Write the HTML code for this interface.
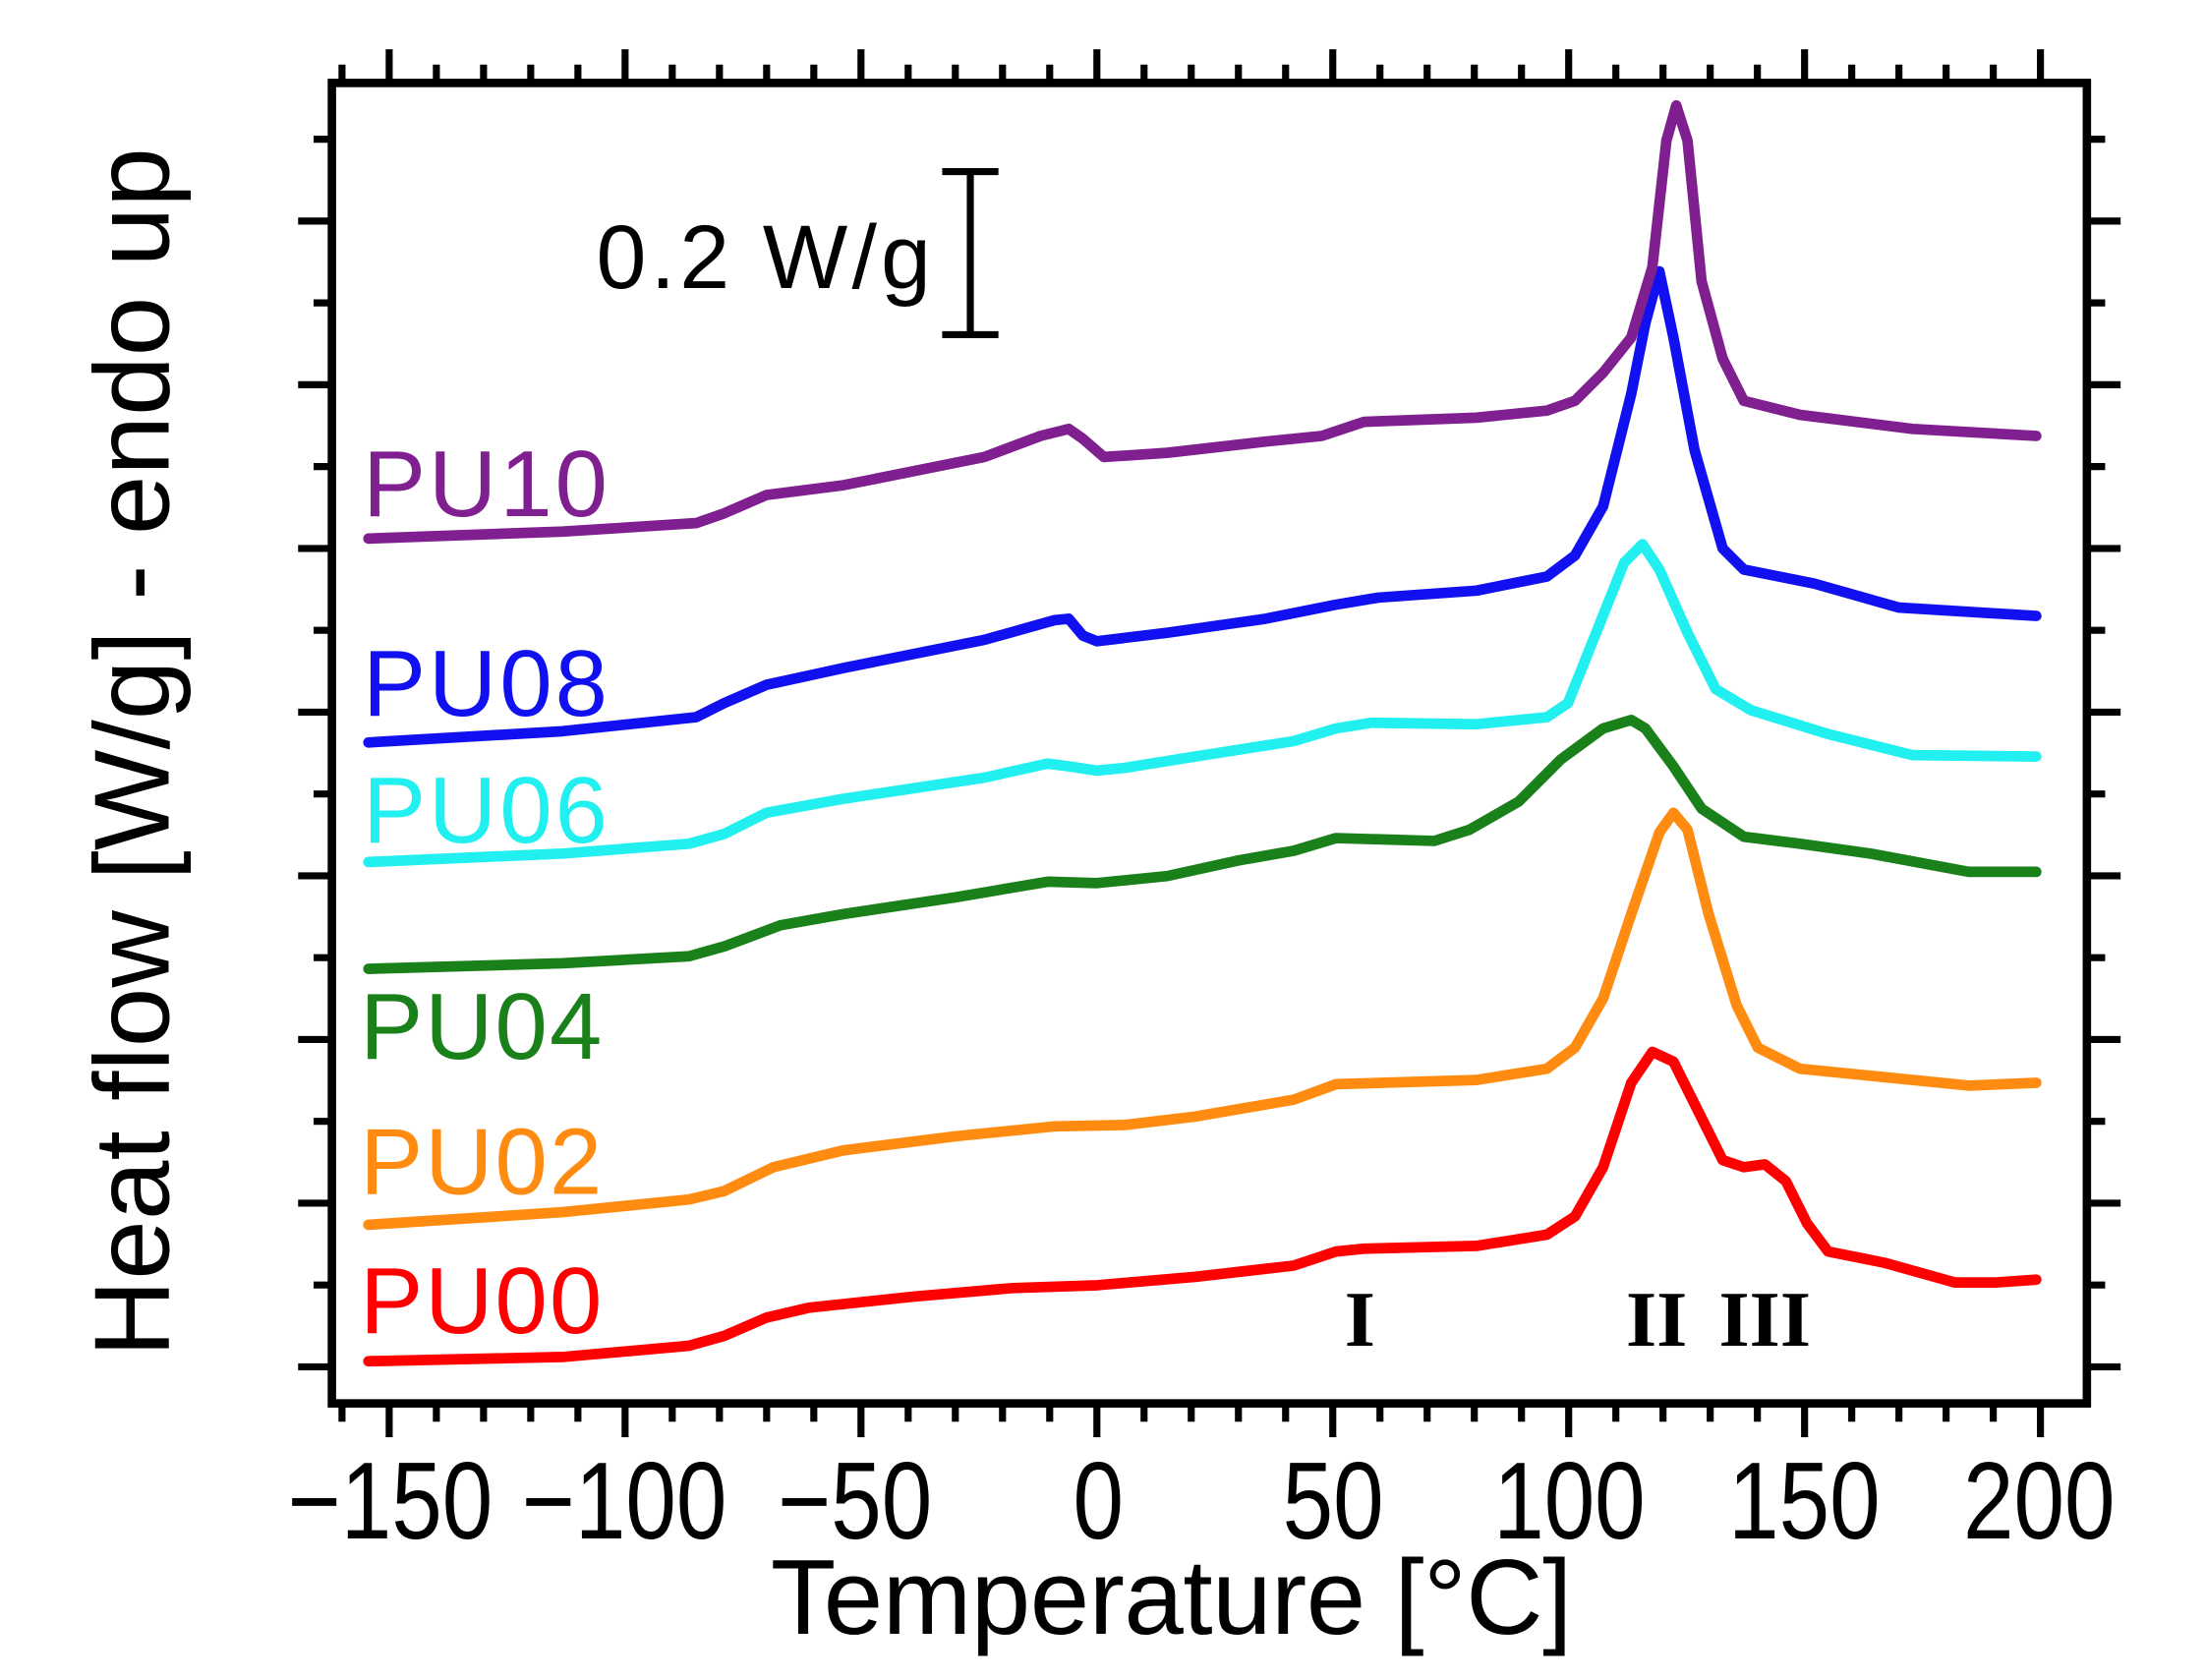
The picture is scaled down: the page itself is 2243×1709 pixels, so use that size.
<!DOCTYPE html>
<html><head><style>html,body{margin:0;padding:0;background:#fff}svg{display:block}</style></head>
<body>
<svg width="2243" height="1709" viewBox="0 0 1568 1194.7" xmlns="http://www.w3.org/2000/svg">
<rect width="1568" height="1195" fill="#fff"/>
<g fill="none" stroke-width="7.5" stroke-linejoin="round" stroke-linecap="round">
<polyline stroke="#ff0000" points="262,968 400,965 490,957 515,950 545,937 575,930 650,922 720,916 780,914 850,908 920,900 950,890 970,888 1050,886 1100,878 1120,865 1140,830 1160,770 1175,748 1190,755 1205,785 1225,825 1240,830 1255,828 1270,840 1285,870 1300,890 1340,898 1390,912 1420,912 1448,910"/>
<polyline stroke="#ff8c10" points="262,871 400,862 490,853 515,847 550,830 600,818 680,808 750,801 800,800 850,794 920,782 950,771 1050,768 1100,760 1120,745 1140,710 1160,650 1180,592 1190,578 1200,590 1215,650 1235,715 1250,745 1280,760 1330,765 1400,772 1448,770"/>
<polyline stroke="#1a801a" points="262,689 400,685 490,680 515,673 555,658 600,650 680,638 745,627 780,628 830,623 880,612 920,605 950,596 1020,598 1045,590 1080,570 1110,540 1140,518 1160,512 1170,518 1190,545 1210,575 1240,595 1280,600 1330,607 1400,620 1448,620"/>
<polyline stroke="#22f0f0" points="262,613 400,607 490,600 515,593 545,578 600,568 700,553 745,543 760,545 780,548 800,546 850,538 920,527 950,518 975,514 1050,515 1100,510 1115,500 1135,450 1155,400 1168,387 1180,405 1200,450 1220,490 1245,505 1300,522 1360,537 1448,538"/>
<polyline stroke="#1010f0" points="262,528 400,520 495,510 515,500 545,487 600,475 700,455 750,441 760,440 770,452 780,456 830,450 900,440 950,430 980,425 1050,420 1100,410 1120,395 1140,360 1160,280 1170,230 1180,193 1190,240 1205,320 1225,390 1240,405 1290,415 1350,432 1448,438"/>
<polyline stroke="#801f90" points="262,383 400,378 495,372 515,365 545,352 600,345 700,325 740,310 760,305 770,312 785,325 830,322 900,314 940,310 970,300 1050,297 1100,292 1120,285 1140,265 1160,240 1175,190 1185,100 1192,75 1200,100 1210,200 1225,255 1240,285 1280,295 1360,305 1448,310"/>
</g>
<g stroke="#000" stroke-width="5" fill="none">
<path d="M276.75,998v24M444.5,998v24M612.25,998v24M780,998v24M947.75,998v24M1115.5,998v24M1283.25,998v24M1451,998v24
M276.75,59v-24M444.5,59v-24M612.25,59v-24M780,59v-24M947.75,59v-24M1115.5,59v-24M1283.25,59v-24M1451,59v-24"/>
<path d="M243.2,998v13M310.3,998v13M343.85,998v13M377.4,998v13M410.95,998v13M478.05,998v13M511.6,998v13M545.15,998v13M578.7,998v13M645.8,998v13M679.35,998v13M712.9,998v13M746.45,998v13M813.55,998v13M847.1,998v13M880.65,998v13M914.2,998v13M981.3,998v13M1014.85,998v13M1048.4,998v13M1081.95,998v13M1149.05,998v13M1182.6,998v13M1216.15,998v13M1249.7,998v13M1316.8,998v13M1350.35,998v13M1383.9,998v13M1417.45,998v13
M243.2,59v-13M310.3,59v-13M343.85,59v-13M377.4,59v-13M410.95,59v-13M478.05,59v-13M511.6,59v-13M545.15,59v-13M578.7,59v-13M645.8,59v-13M679.35,59v-13M712.9,59v-13M746.45,59v-13M813.55,59v-13M847.1,59v-13M880.65,59v-13M914.2,59v-13M981.3,59v-13M1014.85,59v-13M1048.4,59v-13M1081.95,59v-13M1149.05,59v-13M1182.6,59v-13M1216.15,59v-13M1249.7,59v-13M1316.8,59v-13M1350.35,59v-13M1383.9,59v-13M1417.45,59v-13"/>
<path d="M236,157.2h-24M236,273.6h-24M236,390h-24M236,506.4h-24M236,622.8h-24M236,739.2h-24M236,855.6h-24M236,972h-24
M1484,157.2h24M1484,273.6h24M1484,390h24M1484,506.4h24M1484,622.8h24M1484,739.2h24M1484,855.6h24M1484,972h24"/>
<path d="M236,99h-13M236,215.4h-13M236,331.8h-13M236,448.2h-13M236,564.6h-13M236,681h-13M236,797.4h-13M236,913.8h-13
M1484,99h13M1484,215.4h13M1484,331.8h13M1484,448.2h13M1484,564.6h13M1484,681h13M1484,797.4h13M1484,913.8h13"/>
</g>
<rect x="236" y="59" width="1248" height="939" fill="none" stroke="#000" stroke-width="6"/>
<g font-family="Liberation Sans, Arial, sans-serif" font-size="67" lengthAdjust="spacingAndGlyphs">
<text x="258" y="367" fill="#801f90" textLength="174">PU10</text>
<text x="258" y="509" fill="#1010f0" textLength="174">PU08</text>
<text x="258" y="599" fill="#22f0f0" textLength="174">PU06</text>
<text x="256" y="753" fill="#1a801a" textLength="172">PU04</text>
<text x="256" y="849" fill="#ff8c10" textLength="172">PU02</text>
<text x="256" y="948" fill="#ff0000" textLength="172">PU00</text>
</g>
<g font-family="Liberation Sans, Arial, sans-serif" font-size="78" fill="#000" text-anchor="middle" transform="scale(0.83,1)">
<text x="334.3" y="1094">−150</text>
<text x="534.9" y="1094">−100</text>
<text x="732.5" y="1094">−50</text>
<text x="941" y="1094">0</text>
<text x="1142.2" y="1094">50</text>
<text x="1344.6" y="1094">100</text>
<text x="1545.8" y="1094">150</text>
<text x="1747" y="1094">200</text>
</g>
<g font-family="Liberation Sans, Arial, sans-serif" font-size="78" fill="#000" lengthAdjust="spacingAndGlyphs">
<text x="548" y="1162" font-size="76" textLength="570">Temperature [°C]</text>
<text transform="translate(120,965) rotate(-90)" font-size="76" textLength="860">Heat flow  [W/g] - endo up</text>
<text x="424" y="205" font-size="64" textLength="238">0.2 W/g</text>
</g>
<g stroke="#000" stroke-width="5"><line x1="690" y1="122" x2="690" y2="238"/><line x1="670" y1="122" x2="710" y2="122"/><line x1="670" y1="238" x2="710" y2="238"/></g>
<g font-family="Liberation Serif, serif" font-size="56" font-weight="bold" text-anchor="middle" fill="#000">
<text x="967" y="957">I</text><text x="1178" y="957">II</text><text x="1255" y="957">III</text>
</g>
</svg>
</body></html>
